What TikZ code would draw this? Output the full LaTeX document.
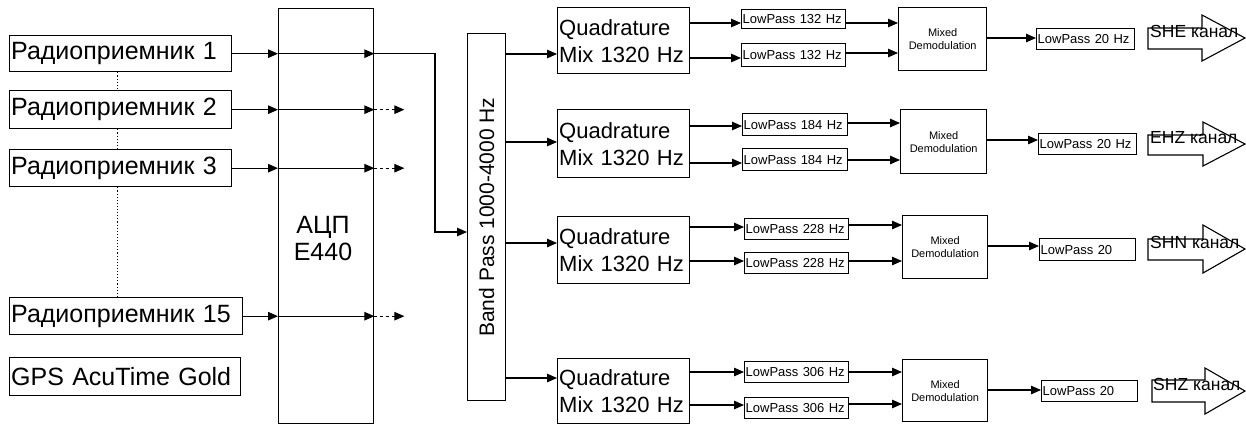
\documentclass[tikz,border=0pt]{standalone}
\usepackage{fontspec}
\setmainfont{Liberation Sans}
\usetikzlibrary{arrows.meta,calc}
\begin{document}
\begin{tikzpicture}[x=1pt,y=-1pt,
  box/.style={draw, line width=1.35pt, anchor=north west, inner sep=0pt},
  lb/.style n args={3}{box, minimum width=#1pt, minimum height=#2pt, text width=#3pt, align=left},
  cb/.style n args={2}{box, minimum width=#1pt, minimum height=#2pt, align=center},
  arr/.style={line width=1.1pt, -{Triangle[length=10pt,width=8.5pt]}},
  ln/.style={line width=1.1pt},
  big/.style={font=\fontsize{25}{28}\selectfont},
  quad/.style={font=\fontsize{22}{27}\selectfont},
  lpf/.style={font=\fontsize{13}{14}\selectfont},
  dmf/.style={font=\fontsize{11}{13}\selectfont},
  chf/.style={font=\fontsize{17.5}{20}\selectfont}
]
\useasboundingbox (0,0) rectangle (1246,424);

% receivers
\node[lb={222}{36}{219},big] (r1) at (9,35) {Радиоприемник 1};
\node[lb={222}{38}{219},big] (r2) at (9,90) {Радиоприемник 2};
\node[lb={222}{37}{219},big] (r3) at (9,149) {Радиоприемник 3};
\node[lb={233}{37}{230},big] (r15) at (9,297) {Радиоприемник 15};
\node[lb={231}{38}{228},big] (gps) at (9,357) {GPS AcuTime Gold};

\draw[dotted, line width=1.1pt] ([xshift=-3pt]r1.south) -- ([xshift=-3pt]r2.north);
\draw[dotted, line width=1.1pt] ([xshift=-3pt]r2.south) -- ([xshift=-3pt]r3.north);
\draw[dotted, line width=1.1pt] ([xshift=-3pt]r3.south) -- ([xshift=-3pt]r3.south |- r15.north);

% ADC
\node[cb={95}{415}] (adc) at (278,8) {};
\node[font=\fontsize{25}{27}\selectfont, align=center] (adct) at (323,239) {АЦП\\E440};

% band pass
\node[cb={38}{367}] (bp) at (467,33) {\rotatebox{90}{\fontsize{21}{24}\selectfont Band Pass 1000-4000 Hz}};

% quadrature mixers
\node[lb={132}{66}{129},quad] (q1) at (557,7) {Quadrature\\Mix 1320 Hz};
\node[lb={132}{68}{129},quad] (q2) at (557,109) {Quadrature\\Mix 1320 Hz};
\node[lb={132}{67}{129},quad] (q3) at (557,216) {Quadrature\\Mix 1320 Hz};
\node[lb={132}{65}{129},quad] (q4) at (557,358) {Quadrature\\Mix 1320 Hz};

% low pass filters
\node[lb={104}{19}{102},lpf] (a1) at (741,9) {LowPass 132 Hz};
\node[lb={104}{23}{102},lpf] (b1) at (741,43) {LowPass 132 Hz};
\node[lb={105}{22}{103},lpf] (a2) at (742,113) {LowPass 184 Hz};
\node[lb={105}{22}{103},lpf] (b2) at (742,148) {LowPass 184 Hz};
\node[lb={104}{21}{102},lpf] (a3) at (744,218) {LowPass 228 Hz};
\node[lb={104}{21}{102},lpf] (b3) at (744,252) {LowPass 228 Hz};
\node[lb={104}{21}{102},lpf] (a4) at (744,361) {LowPass 306 Hz};
\node[lb={104}{21}{102},lpf] (b4) at (744,397) {LowPass 306 Hz};

% demodulators
\node[cb={88}{63},dmf] (d1) at (898,7) {Mixed\\Demodulation};
\node[cb={86}{64},dmf] (d2) at (900,109) {Mixed\\Demodulation};
\node[cb={85}{63},dmf] (d3) at (902,215) {Mixed\\Demodulation};
\node[cb={85}{62},dmf] (d4) at (902,359) {Mixed\\Demodulation};

% output low pass
\node[lb={98}{21}{96},lpf] (e1) at (1036,28) {LowPass 20 Hz};
\node[lb={98}{21}{96},lpf] (e2) at (1038,133) {LowPass 20 Hz};
\node[lb={96}{22}{94},lpf] (e3) at (1039,238) {LowPass 20};
\node[lb={96}{21}{94},lpf] (e4) at (1041,380) {LowPass 20};

% channel arrows
\foreach \n/\xa/\xh/\bt/\bb/\ht/\hb/\ty/\tx/\txt in {
  1/1148/1202/28/49/15/61/38/1150/SHE канал,
  2/1148/1203/135/155/122/166/144/1150/EHZ канал,
  3/1148/1203/239/260/225/273/249/1150/SHN канал,
  4/1152/1205/380/402/368/414/391/1153/SHZ канал}{
  \draw[ln] (\xa,\bt) -- (\xh,\bt) -- (\xh,\ht) -- (1245,\ty) -- (\xh,\hb) -- (\xh,\bb) -- (\xa,\bb) -- cycle;
  \node[chf, anchor=west, inner sep=0pt] (c\n) at (\tx,\ty) {\txt};
}

% receivers -> ADC
\foreach \r in {r1,r2,r3,r15}{
  \draw[arr] (\r.east) -- (adc.west |- \r.east);
  \draw[arr] (adc.west |- \r.east) -- (adc.east |- \r.east);
}
\coordinate (k) at (435,232);
\draw[arr] (adc.east |- r1.east) -| (k) -- (bp.west |- k);
\foreach \r in {r2,r3,r15}{
  \coordinate (o\r) at ($(adc.east |- \r.east)+(30,0)$);
  \draw[arr, dash pattern=on 3pt off 3pt] (adc.east |- \r.east) -- (o\r);
}

% band pass -> mixers
\foreach \n/\y in {1/54,2/142,3/243,4/378}{
  \draw[arr] (bp.east |- 0,\y) -- (q\n.west |- 0,\y);
}

% mixers -> filters -> demodulators -> output filters
\foreach \n/\ia/\ib/\oa/\ob/\od in {1/23/58/23/53/38, 2/126/163/123/160/140, 3/227/261/225/261/246, 4/372/405/372/404/390}{
  \draw[arr] (q\n.east |- 0,\ia) -- (a\n.west |- 0,\ia);
  \draw[arr] (q\n.east |- 0,\ib) -- (b\n.west |- 0,\ib);
  \draw[arr] (a\n.east |- 0,\oa) -- (d\n.west |- 0,\oa);
  \draw[arr] (b\n.east |- 0,\ob) -- (d\n.west |- 0,\ob);
  \draw[arr] (d\n.east |- 0,\od) -- (e\n.west |- 0,\od);
}
\end{tikzpicture}
\end{document}
